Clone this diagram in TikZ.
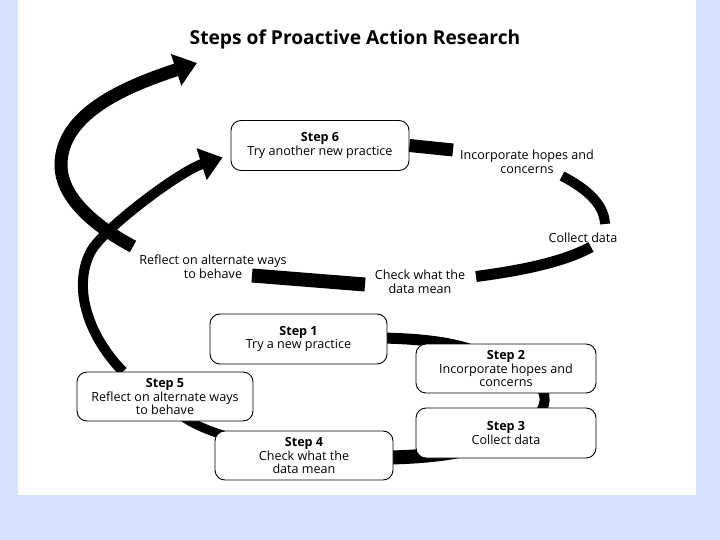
\documentclass[tikz,border=0pt]{standalone}
\usepackage{fontspec}
\setmainfont{Open Sans}
\usetikzlibrary{arrows.meta,backgrounds}
\pgfdeclarelayer{paper}
\pgfsetlayers{paper,background,main}

\begin{document}
\begin{tikzpicture}[x=1pt,y=-1pt,
  stepbox/.style={draw=black,line width=0.9pt,rounded corners=10pt,fill=white,
    minimum width=177pt,minimum height=49pt,align=center,inner sep=2pt,
    font=\fontsize{12.6}{13.6}\selectfont},
  cyclelabel/.style={align=center,inner sep=1pt,font=\fontsize{12.6}{13.6}\selectfont},
  band/.style={draw=black,line width=#1},
  bigtip/.style={-{Triangle[width=32pt,length=22pt]}}]
\definecolor{slideColor}{RGB}{214,227,255}
\path[use as bounding box] (0,0) rectangle (720,540);
\begin{pgfonlayer}{paper}
\fill[slideColor] (0,0) rectangle (720,540);
\fill[white] (18,0) rectangle (696,495);
\end{pgfonlayer}

\node[font=\fontsize{19.2}{22}\selectfont\bfseries] (title) at (355,39) {Steps of Proactive Action Research};

\node[stepbox,minimum width=178pt,minimum height=50pt] (s6) at (320,145.5) {\textbf{Step 6}\\Try another new practice};
\node[stepbox,minimum height=50pt] (s1) at (298.5,339) {\textbf{Step 1}\\Try a new practice};
\node[stepbox,minimum width=180pt] (s2) at (506,368.5) {\textbf{Step 2}\\Incorporate hopes and\\concerns};
\node[stepbox,minimum width=180pt,minimum height=50pt] (s3) at (506,433) {\textbf{Step 3}\\Collect data};
\node[stepbox,minimum width=178pt] (s4) at (304,455.5) {\textbf{Step 4}\\Check what the\\data mean};
\node[stepbox,minimum width=176pt] (s5) at (165,396.5) {\textbf{Step 5}\\Reflect on alternate ways\\to behave};

\node[cyclelabel] (inc) at (527,162) {Incorporate hopes and\\concerns};
\node[cyclelabel] (col) at (583,238) {Collect data};
\node[cyclelabel] (chk) at (420,281.5) {Check what the\\data mean};
\node[cyclelabel] (refl) at (213,267) {Reflect on alternate ways\\to behave};
\coordinate (exit) at (197,63);

\begin{pgfonlayer}{background}
\draw[band=11pt] (s1.center) .. controls (420,335) and (470,340) .. (s2.center);
\draw[band=10pt] (s2.center) .. controls (560,380) and (555,420) .. (s3.center);
\draw[band=14pt] (s3.center) .. controls (470,460) and (380,460) .. (s4.center);
\draw[band=9pt] (s4.center) .. controls (240,440) and (180,430) .. (s5.center);
\draw[band=10pt,bigtip] ([xshift=-42]s5.north) .. controls (90,338) and (72,290) .. (90,253)
  .. controls (101,230) and (180,171) .. ([shift={(-8,12)}]s6.west);
\end{pgfonlayer}

\draw[band=13pt] (s6.east) -- ([shift={(-74,-12)}]inc.center);
\draw[band=10pt] ([shift={(35,14)}]inc.center) .. controls (585,188) and (604,203) .. ([shift={(22,-14)}]col.center);
\draw[band=11pt] ([shift={(8,9)}]col.center) .. controls (560,264) and (510,272) .. ([shift={(56,-5)}]chk.center);
\draw[band=14pt] ([shift={(-55,3)}]chk.center) -- ([shift={(39,8.5)}]refl.center);
\draw[band=13pt,bigtip] ([shift={(-80,-20.5)}]refl.center) .. controls (100,229) and (61,200) .. (61,165)
  .. controls (61,112) and (130,85) .. (exit);
\end{tikzpicture}
\end{document}
